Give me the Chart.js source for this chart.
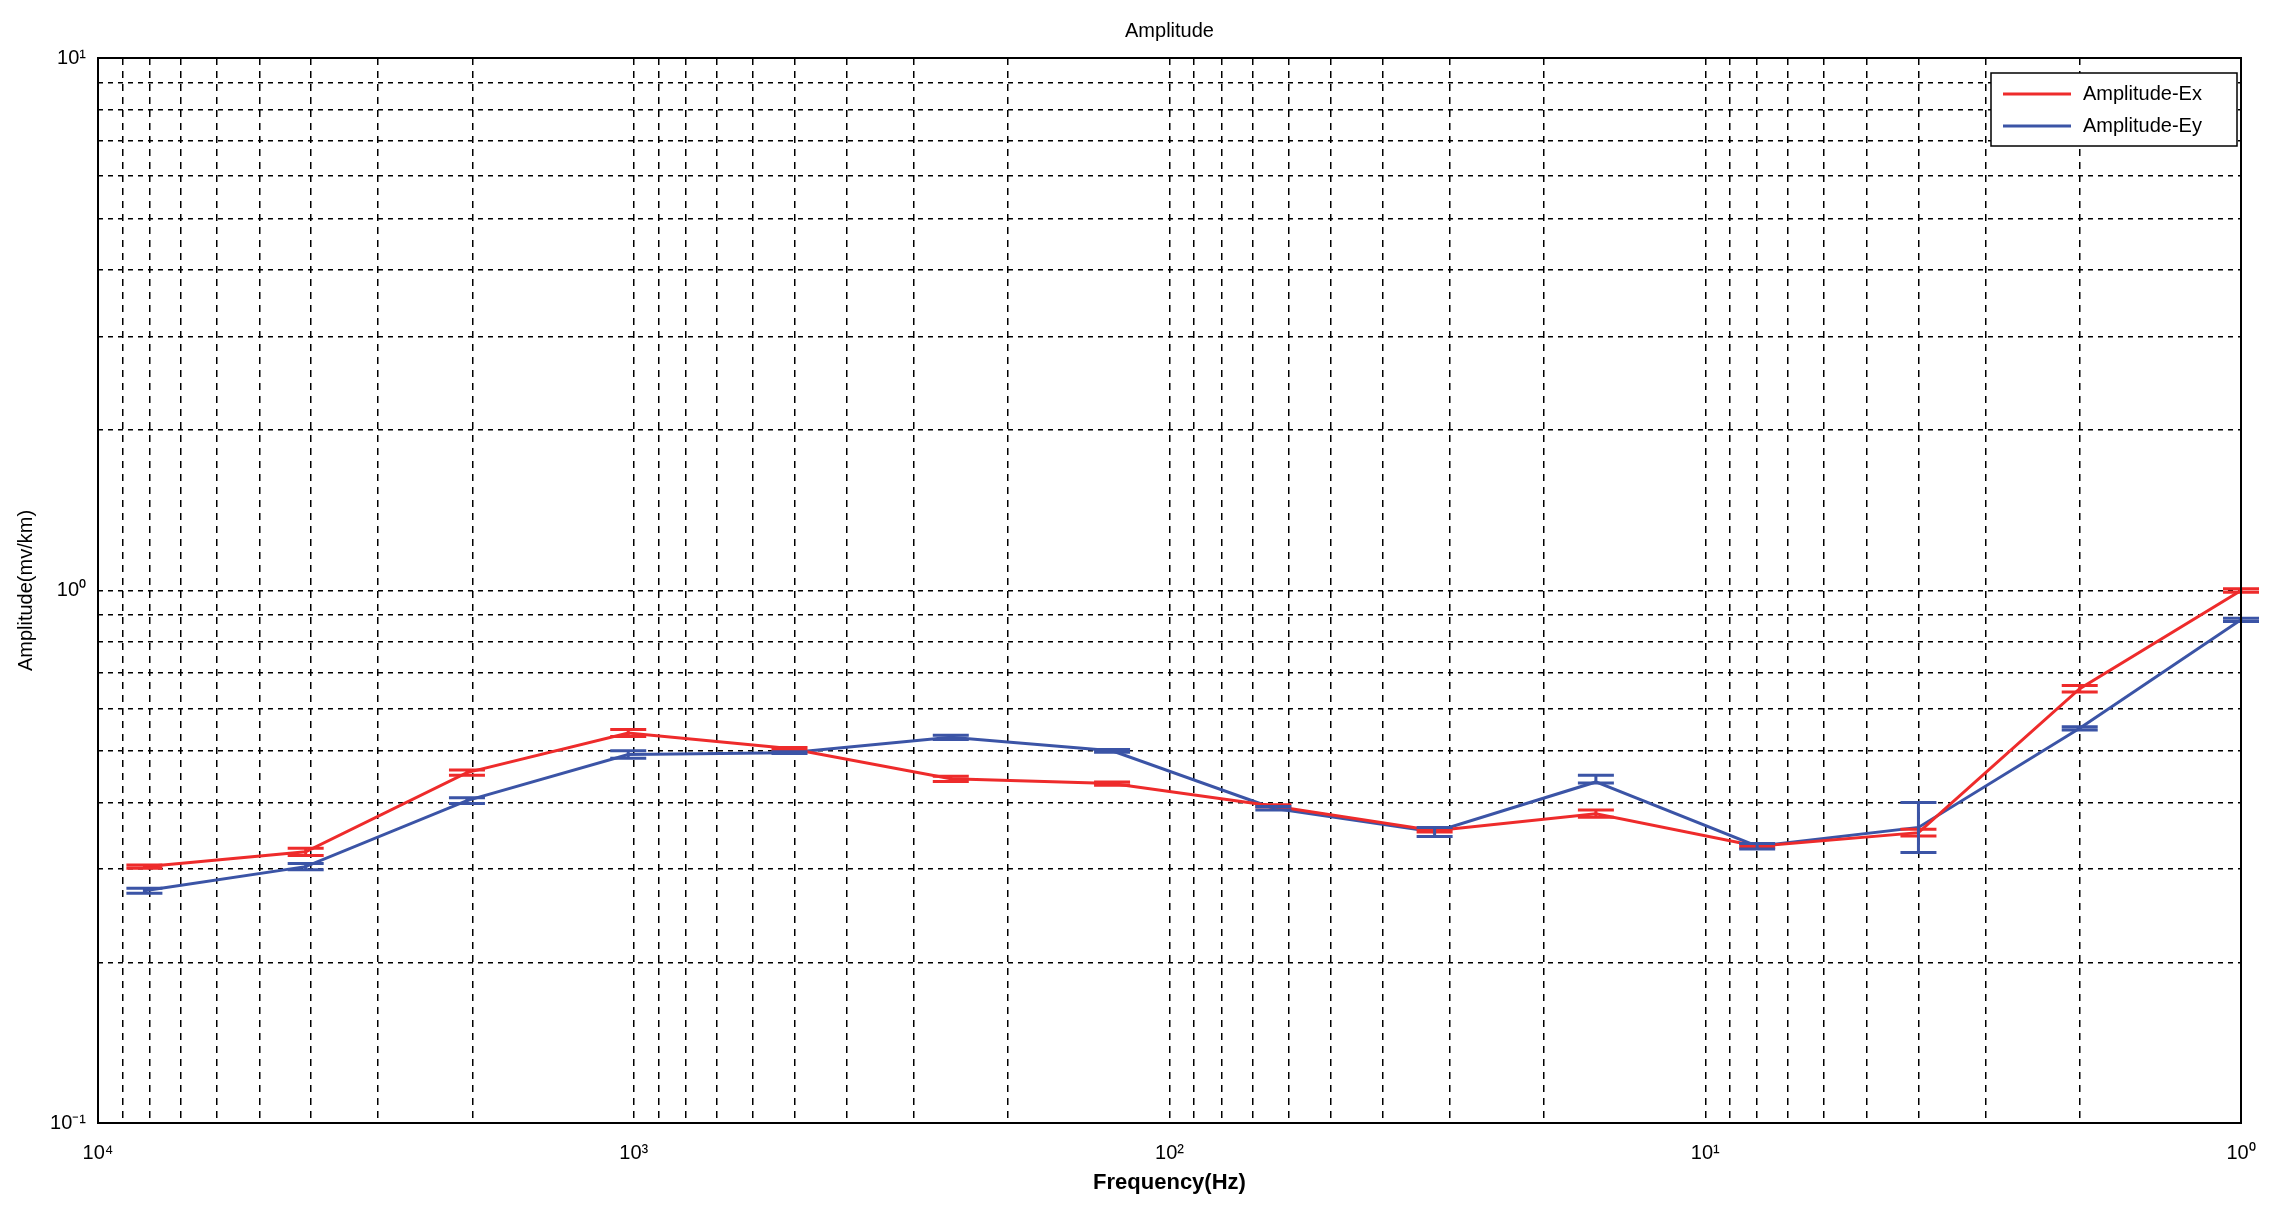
<!DOCTYPE html>
<html><head><meta charset="utf-8">
<script src="https://cdn.jsdelivr.net/npm/chart.js@4/dist/chart.umd.min.js"></script>
<style>html,body{margin:0;padding:0;background:#fff;}#wrap{width:2281px;height:1212px;}</style>
</head><body><div id="wrap"><canvas id="c"></canvas></div>
<script>
const frequencies = [8192,4096,2048,1024,512,256,128,64,32,16,8,4,2,1];
const ampEx = [0.303,0.323,0.455,0.54,0.505,0.443,0.434,0.394,0.354,0.381,0.331,0.351,0.654,1.0];
const ampEy = [0.273,0.303,0.403,0.492,0.496,0.53,0.50,0.39,0.352,0.437,0.331,0.359,0.551,0.881];
const errExLow  = [0.301,0.318,0.450,0.532,0.503,0.438,0.431,0.392,0.352,0.375,0.329,0.346,0.645,0.992];
const errExHigh = [0.305,0.328,0.460,0.548,0.507,0.448,0.437,0.396,0.356,0.387,0.333,0.356,0.663,1.008];
const errEyLow  = [0.270,0.299,0.398,0.484,0.494,0.525,0.497,0.387,0.345,0.435,0.327,0.322,0.547,0.875];
const errEyHigh = [0.276,0.307,0.408,0.500,0.498,0.535,0.503,0.393,0.359,0.450,0.335,0.400,0.555,0.887];
const seriesNames = ['Amplitude-Ex','Amplitude-Ey'];
const RED='#ee2b2b', BLUE='#3b54a6';
const sup = {'0':'⁰','1':'¹','2':'²','3':'³','4':'⁴','-':'⁻'};
function powLabel(v){const e=Math.round(Math.log10(v));if(Math.abs(Math.log10(v)-e)>1e-9)return '';return '10'+String(e).split('').map(c=>sup[c]).join('');}
const FONT='"Liberation Sans", Arial, sans-serif';
const errPlugin={id:'err',afterDatasetsDraw(ch){
  const ctx=ch.ctx,xs=ch.scales.x,ys=ch.scales.y;
  const sets=[[errExLow,errExHigh,RED],[errEyLow,errEyHigh,BLUE]];
  sets.forEach(([lo,hi,col])=>{ctx.save();ctx.strokeStyle=col;ctx.lineWidth=3;
    frequencies.forEach((f,i)=>{const x=xs.getPixelForValue(f),y1=ys.getPixelForValue(lo[i]),y2=ys.getPixelForValue(hi[i]);
      ctx.beginPath();ctx.moveTo(x,y1);ctx.lineTo(x,y2);
      ctx.moveTo(x-18,y1);ctx.lineTo(x+18,y1);ctx.moveTo(x-18,y2);ctx.lineTo(x+18,y2);ctx.stroke();});
    ctx.restore();});
}};
const decor={id:'decor',afterDraw(ch){
  const ctx=ch.ctx,a=ch.chartArea;ctx.save();
  ctx.strokeStyle='#000';ctx.lineWidth=2;ctx.strokeRect(a.left,a.top,a.right-a.left,a.bottom-a.top);
  ctx.fillStyle='#000';ctx.textAlign='center';ctx.textBaseline='middle';
  ctx.font='20px '+FONT;ctx.fillText('Amplitude',(a.left+a.right)/2,31);
  ctx.font='bold 22px '+FONT;ctx.fillText('Frequency(Hz)',(a.left+a.right)/2,1183);
  ctx.save();ctx.translate(26,(a.top+a.bottom)/2);ctx.rotate(-Math.PI/2);ctx.font='20px '+FONT;ctx.fillText('Amplitude(mv/km)',0,0);ctx.restore();
  const lx=1991,ly=73,lw=246,lh=73;ctx.fillStyle='#fff';ctx.fillRect(lx,ly,lw,lh);
  ctx.lineWidth=1.5;ctx.strokeStyle='#000';ctx.strokeRect(lx,ly,lw,lh);
  ctx.font='20px '+FONT;ctx.textAlign='left';
  [[RED,seriesNames[0],ly+21],[BLUE,seriesNames[1],ly+53]].forEach(([c,t,y])=>{
    ctx.strokeStyle=c;ctx.lineWidth=3;ctx.beginPath();ctx.moveTo(lx+12,y);ctx.lineTo(lx+80,y);ctx.stroke();
    ctx.fillStyle='#000';ctx.fillText(t,lx+92,y);});
  ctx.restore();
}};
new Chart(document.getElementById('c'),{
  type:'line',
  data:{datasets:[
    {label:seriesNames[0],data:frequencies.map((f,i)=>({x:f,y:ampEx[i]})),borderColor:RED,borderWidth:3,pointRadius:0,tension:0},
    {label:seriesNames[1],data:frequencies.map((f,i)=>({x:f,y:ampEy[i]})),borderColor:BLUE,borderWidth:3,pointRadius:0,tension:0}
  ]},
  options:{responsive:true,maintainAspectRatio:false,animation:false,devicePixelRatio:1,
    layout:{padding:{top:58,right:40,left:0,bottom:0}},
    plugins:{legend:{display:false},tooltip:{enabled:false}},
    scales:{
      x:{type:'logarithmic',reverse:true,min:1,max:10000,
        afterFit(s){s.height=89;},
        border:{display:false,dash:[7,6]},
        grid:{color:'#000',lineWidth:1.5,drawTicks:false},
        ticks:{autoSkip:false,maxRotation:0,padding:18,color:'#000',font:{family:FONT,size:20},callback:v=>powLabel(v)},
        afterBuildTicks(s){const t=[];for(let e=0;e<4;e++)for(let m=1;m<10;m++)t.push({value:m*Math.pow(10,e)});t.push({value:10000});s.ticks=t;}
      },
      y:{type:'logarithmic',min:0.1,max:10,
        afterFit(s){s.width=98;},
        border:{display:false,dash:[5,5]},
        grid:{color:'#000',lineWidth:1.5,drawTicks:false},
        ticks:{autoSkip:false,padding:12,color:'#000',font:{family:FONT,size:20},callback:v=>powLabel(v)},
        afterBuildTicks(s){const t=[];for(let e=-1;e<1;e++)for(let m=1;m<10;m++)t.push({value:m*Math.pow(10,e)});t.push({value:10});s.ticks=t;}
      }
    }
  },
  plugins:[errPlugin,decor]
});
</script></body></html>
